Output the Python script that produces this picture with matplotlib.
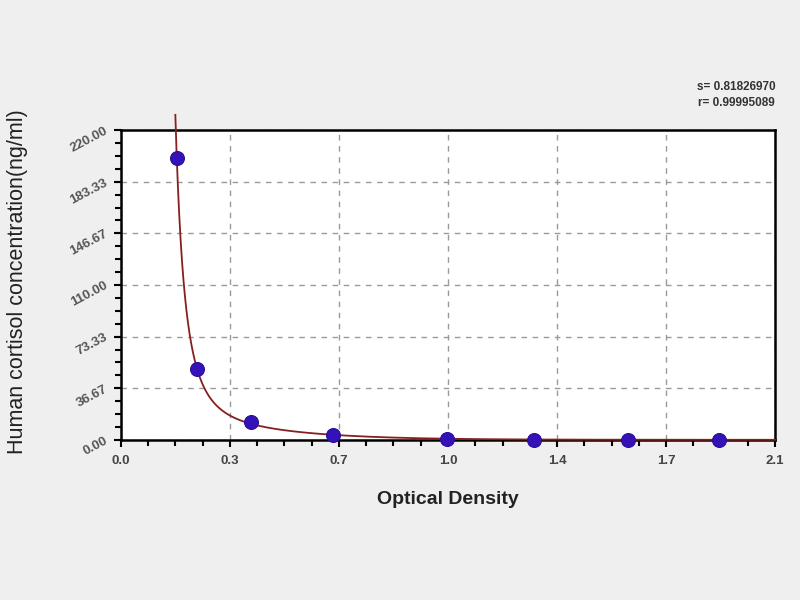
import numpy as np
import matplotlib
matplotlib.use("Agg")
import matplotlib.pyplot as plt
from matplotlib.ticker import FixedLocator, MultipleLocator

plt.rcParams['font.family'] = ['Liberation Sans', 'DejaVu Sans']

# data
od = [0.18, 0.243, 0.419, 0.682, 1.047, 1.326, 1.629, 1.919]
conc = [200.0, 50.0, 12.5, 3.1, 0.8, 0.2, 0.05, 0.0]

x_ticks = [0.0, 0.35, 0.7, 1.05, 1.4, 1.75, 2.1]
x_labels = ["0.0", "0.3", "0.7", "1.0", "1.4", "1.7", "2.1"]
y_ticks = [0.0, 36.67, 73.33, 110.0, 146.67, 183.33, 220.0]
y_labels = ["0.00", "36.67", "73.33", "110.00", "146.67", "183.33", "220.00"]

stat_lines = ["s= 0.81826970", "r= 0.99995089"]

fig = plt.figure(figsize=(8, 6), dpi=100)
fig.patch.set_facecolor('#efefef')
ax = fig.add_axes([0.151, 0.267, 0.818, 0.516])
ax.set_facecolor('white')

# fitted curve (weighted log-log cubic fit of the nonzero standards)
xa = np.array(od)
ya = np.array(conc)
m = ya > 0
w = np.array([6, 5, 3, 2, 1, 1, 1], dtype=float)
coef = np.polyfit(np.log(xa[m]), np.log(ya[m]), 3, w=w)
xf = np.linspace(0.10, 2.1, 4000)
yf = np.exp(np.polyval(coef, np.log(xf)))
yf = np.where(yf > 232, np.nan, yf)
ax.plot(xf, yf, color='#862020', lw=1.3, clip_on=False, zorder=3)

ax.plot(od, conc, linestyle='none', marker='o', ms=10, color='#3412b8',
        mec='#2a0e9a', mew=0.8, clip_on=False, zorder=4)

ax.set_xlim(0, 2.1)
ax.set_ylim(0, 220)
ax.xaxis.set_major_locator(FixedLocator(x_ticks))
ax.set_xticklabels(x_labels)
ax.xaxis.set_minor_locator(MultipleLocator(0.0875))
ax.yaxis.set_major_locator(FixedLocator(y_ticks))
ax.set_yticklabels(y_labels, rotation=28, ha='right', va='center',
                   rotation_mode='anchor')
ax.yaxis.set_minor_locator(MultipleLocator(220 / 24))

ax.grid(True, which='major', color='#9a9a9a', linestyle=(0, (4, 4)), lw=1.0)
ax.set_axisbelow(True)

for s in ax.spines.values():
    s.set_linewidth(1.8)
    s.set_color('black')

ax.tick_params(which='both', direction='out', width=1.5, color='black')
ax.tick_params(which='major', length=5)
ax.tick_params(which='minor', length=4)
ax.tick_params(axis='x', labelsize=9.5, pad=6, labelcolor='#444444')
ax.tick_params(axis='y', labelsize=9.5, pad=5, labelcolor='#555555')
for lab in ax.get_xticklabels() + ax.get_yticklabels():
    lab.set_fontweight('bold')

ax.set_xlabel("Optical Density", fontsize=14, fontweight='bold', labelpad=17,
              color='#222222')
ax.set_ylabel("Human cortisol concentration(ng/ml)", fontsize=15.5,
              color='#222222')
ax.yaxis.set_label_coords(-0.142, 0.51)

fig.text(0.969, 0.855, stat_lines[0], ha='right', va='center', fontsize=8.5,
         fontweight='bold', color='#333333')
fig.text(0.969, 0.829, stat_lines[1], ha='right', va='center', fontsize=8.5,
         fontweight='bold', color='#333333')

fig.savefig("out.png", dpi=100, facecolor=fig.get_facecolor())
